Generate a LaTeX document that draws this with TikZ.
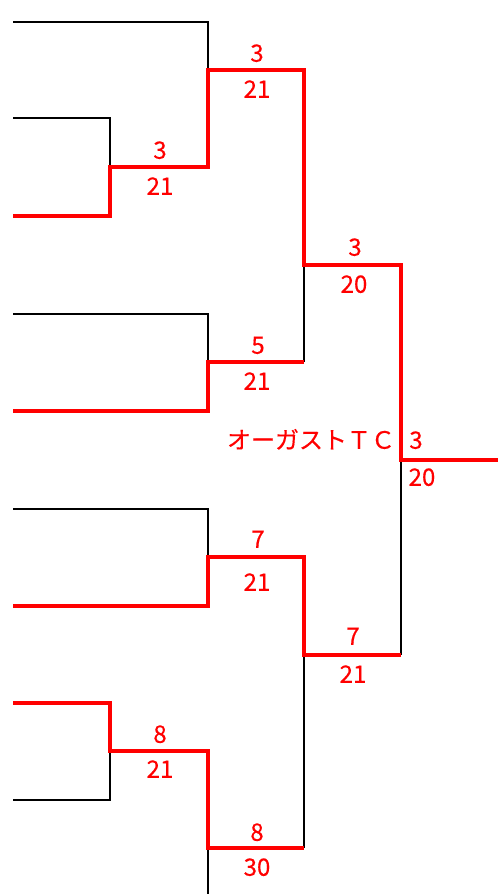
\documentclass[tikz,border=0pt]{standalone}
\usepackage{fontspec}
\setmainfont{Noto Sans CJK JP}
\newfontfamily\scorefont{Noto Sans CJK JP}[FakeBold=0.35]

\begin{document}
\begin{tikzpicture}[x=1pt,y=-1pt,
  lose/.style={draw=black,line width=1.8pt},
  win/.style={draw=red,line width=4pt},
  score/.style={font=\scorefont\fontsize{24}{28}\selectfont,text=red,inner sep=0pt,text height=17.5pt,text depth=0pt},
]
\useasboundingbox (0,0) rectangle (503,894);
\foreach \n/\y in {e1/22,e2/118,e3/216,e4/314,e5/411,e6/509,e7/606,e8/703,e9/800}
  \coordinate (\n) at (13,\y);
\coordinate (m1) at (110,167);
\coordinate (m2) at (110,751);
\coordinate (q1) at (208,70);
\coordinate (q2) at (208,362);
\coordinate (q3) at (208,557);
\coordinate (q4) at (208,848);
\coordinate (out) at (208,894);
\coordinate (s1) at (304,265);
\coordinate (s2) at (304,655);
\coordinate (fin) at (401,460);
\coordinate (champ) at (498,460);
\draw[lose] (e1) -| (q1);
\draw[lose] (e2) -| (m1);
\draw[lose] (e4) -| (q2);
\draw[lose] (e6) -| (q3);
\draw[lose] (e9) -| (m2);
\draw[lose] (out) -- (q4);
\draw[lose] (q2 -| s1) -- (s1);
\draw[lose] (q4 -| s2) -- (s2);
\draw[lose] (s2 -| fin) -- (fin);
\draw[win] (e3) -| (m1) -| (q1) -| (s1) -| (fin) -- (champ);
\draw[win] (e5) -| (q2) -- (q2 -| s1);
\draw[win] (e7) -| (q3) -| (s2) -- (s2 -| fin);
\draw[win] (e8) -| (m2) -| (q4) -- (q4 -| s2);
\foreach \n/\x/\y/\t in {m1u/160/150/3,m1d/160/186/21,q1u/257/53/3,q1d/257/89/21,
  q2u/258/345/5,q2d/257/381/21,q3u/258/539/7,q3d/257/582/21,m2u/160/734/8,m2d/160/769/21,
  q4u/257/832/8,q4d/257/867/30,s1u/355/247/3,s1d/354/284/20,s2u/353/636/7,s2d/353/674/21,
  finu/416/440/3,find/422/477/20}
  \node[score] (\n) at (\x,\y) {\t};
\node[score] (team) at (311,440) {オーガストＴＣ};
\end{tikzpicture}
\end{document}
